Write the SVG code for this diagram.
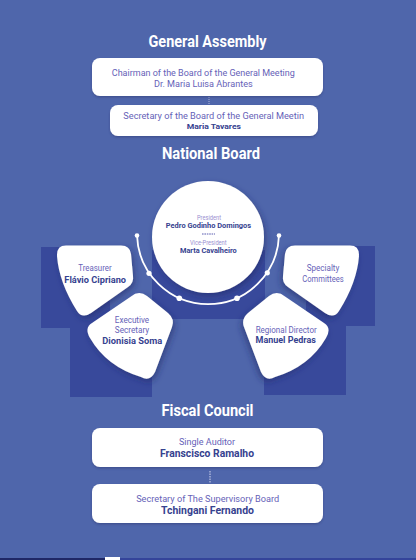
<svg xmlns="http://www.w3.org/2000/svg" width="416" height="560" viewBox="0 0 416 560">
<defs>
<style>
.t{font-family:Roboto,"Liberation Sans",sans-serif;text-anchor:middle}
.title{font-weight:700;font-size:17px;fill:#ffffff}
.lbl{fill:#6662b8}
.nm{font-weight:700;fill:#36428f}
.box{fill:#ffffff}
.petal{fill:#ffffff}
.dark{fill:#38499b}
.ctext{fill:#9a8fd0}
</style>
<filter id="sh" x="-30%" y="-30%" width="160%" height="160%">
<feDropShadow dx="2" dy="3" stdDeviation="3" flood-color="#1c2766" flood-opacity="0.55"/>
</filter>
<filter id="bsh" x="-10%" y="-20%" width="120%" height="150%">
<feDropShadow dx="0" dy="1.5" stdDeviation="1" flood-color="#2a356f" flood-opacity="0.45"/>
</filter>
<path id="petalA" d="M66,245.5 L121,245.5 Q130,245.5 131,254 L133,276 Q134,283 128,287 L91,313 Q82,319 77,311 Q59,282.5 57,256 Q56.5,245.5 66,245.5 Z"/>
<path id="petalB" d="M131,296.4 Q139,290 147,296 L168,313 Q175,319 172,327 L155,372 Q150,382 141,377 Q106.5,366.5 90,338 Q84,328 92,323 Z"/>
</defs>
<rect width="416" height="560" fill="#4f66ab"/>
<rect x="0" y="558" width="105" height="2" fill="#1f2766"/>
<rect x="105" y="557" width="15" height="3" fill="#ffffff"/>
<rect x="120" y="558" width="296" height="2" fill="#34449a"/>

<g id="backdrop">
<rect class="dark" x="41" y="247" width="69" height="81"/>
<rect class="dark" x="70" y="320" width="82" height="77"/>
<rect class="dark" x="152" y="250" width="113" height="69"/>
<rect class="dark" x="306" y="246" width="69" height="80"/>
<rect class="dark" x="264" y="320" width="82" height="75"/>
</g>

<text class="t title" x="207.5" y="46.5" textLength="118" lengthAdjust="spacingAndGlyphs">General Assembly</text>
<text class="t title" x="211" y="159.3" textLength="98" lengthAdjust="spacingAndGlyphs">National Board</text>
<text class="t title" x="207.5" y="415.7" textLength="92" lengthAdjust="spacingAndGlyphs">Fiscal Council</text>

<g id="connectors" fill="none">
<line x1="209" y1="97" x2="209" y2="104" stroke="#c9cde6" stroke-width="0.8" stroke-dasharray="1 1"/>
<line x1="210" y1="471" x2="210" y2="483" stroke="#d3d7ee" stroke-width="1" stroke-dasharray="1.5 1"/>
<path d="M137.04,235.48 A71,71 0 0 0 278.96,235.48" stroke="#ffffff" stroke-width="1.8"/>
<g fill="#ffffff">
<circle cx="137" cy="235.5" r="2.3"/>
<circle cx="149" cy="273.3" r="2.6"/>
<circle cx="179.3" cy="298.3" r="2.8"/>
<circle cx="237" cy="298.3" r="2.8"/>
<circle cx="267.3" cy="272.8" r="2.6"/>
<circle cx="279" cy="235.5" r="2.3"/>
</g>
</g>

<g id="chairman">
<rect class="box" x="92" y="58" width="231" height="38" rx="8" filter="url(#bsh)"/>
<text class="t lbl" x="203.3" y="76" font-size="9.3" textLength="183" lengthAdjust="spacingAndGlyphs">Chairman of the Board of the General Meeting</text>
<text class="t lbl" x="203.3" y="86.7" font-size="9.3" textLength="98.7" lengthAdjust="spacingAndGlyphs">Dr. Maria Luisa Abrantes</text>
</g>

<g id="secretary-gm">
<rect class="box" x="110" y="105" width="208" height="31" rx="8" filter="url(#bsh)"/>
<text class="t lbl" x="213.7" y="119" font-size="9.3" textLength="180.7" lengthAdjust="spacingAndGlyphs">Secretary of the Board of the General Meetin</text>
<text class="t nm" x="213.8" y="129" font-size="8" textLength="54.3" lengthAdjust="spacingAndGlyphs" fill="#2f3a7a">Maria Tavares</text>
</g>

<g id="president">
<circle cx="208" cy="237" r="56" fill="#ffffff" filter="url(#sh)"/>
<text class="t ctext" x="209" y="220" font-size="6.3" textLength="24" lengthAdjust="spacingAndGlyphs">President</text>
<text class="t nm" x="208.5" y="228.3" font-size="7.4" textLength="85.3" lengthAdjust="spacingAndGlyphs" fill="#514b9c">Pedro Godinho Domingos</text>
<line x1="202" y1="234" x2="215" y2="234" stroke="#5a5db0" stroke-width="1" stroke-dasharray="1.6 0.8"/>
<text class="t ctext" x="208.3" y="245" font-size="6.3" textLength="36.7" lengthAdjust="spacingAndGlyphs">Vice-President</text>
<text class="t nm" x="208.3" y="253.3" font-size="7.4" textLength="56.7" lengthAdjust="spacingAndGlyphs" fill="#514b9c">Marta Cavalheiro</text>
</g>

<g id="treasurer">
<use href="#petalA" class="petal" filter="url(#sh)"/>
<text class="t lbl" x="95" y="271.3" font-size="8.5" textLength="33.3" lengthAdjust="spacingAndGlyphs">Treasurer</text>
<text class="t nm" x="95.2" y="282.5" font-size="8.8" textLength="61.7" lengthAdjust="spacingAndGlyphs">Flávio Cipriano</text>
</g>

<g id="executive-secretary">
<use href="#petalB" class="petal" filter="url(#sh)"/>
<text class="t lbl" x="132" y="323.3" font-size="8.5" textLength="34.3" lengthAdjust="spacingAndGlyphs">Executive</text>
<text class="t lbl" x="132" y="333.3" font-size="8.5" textLength="34.3" lengthAdjust="spacingAndGlyphs">Secretary</text>
<text class="t nm" x="132.3" y="344.3" font-size="8.8" textLength="60" lengthAdjust="spacingAndGlyphs">Dionisia Soma</text>
</g>

<g id="specialty-committees">
<use href="#petalA" class="petal" transform="matrix(-1,0,0,1,416,0)" filter="url(#sh)"/>
<text class="t lbl" x="323" y="271.3" font-size="8.5" textLength="32.7" lengthAdjust="spacingAndGlyphs">Specialty</text>
<text class="t lbl" x="323" y="282.3" font-size="8.5" textLength="41.3" lengthAdjust="spacingAndGlyphs">Committees</text>
</g>

<g id="regional-director">
<use href="#petalB" class="petal" transform="matrix(-1,0,0,1,416,0)" filter="url(#sh)"/>
<text class="t lbl" x="286.2" y="332.5" font-size="8.5" textLength="61" lengthAdjust="spacingAndGlyphs">Regional Director</text>
<text class="t nm" x="285.7" y="342.8" font-size="8.8" textLength="60.3" lengthAdjust="spacingAndGlyphs">Manuel Pedras</text>
</g>

<g id="single-auditor">
<rect class="box" x="92" y="428" width="231" height="39" rx="8" filter="url(#bsh)"/>
<text class="t lbl" x="207" y="444.5" font-size="9.5" textLength="56" lengthAdjust="spacingAndGlyphs">Single Auditor</text>
<text class="t nm" x="207" y="457.3" font-size="10.8" textLength="94" lengthAdjust="spacingAndGlyphs">Franscisco Ramalho</text>
</g>

<g id="secretary-supervisory">
<rect class="box" x="92" y="484" width="231" height="39" rx="8" filter="url(#bsh)"/>
<text class="t lbl" x="207.7" y="501.7" font-size="9.5" textLength="143" lengthAdjust="spacingAndGlyphs">Secretary of The Supervisory Board</text>
<text class="t nm" x="207.5" y="514" font-size="10.8" textLength="93" lengthAdjust="spacingAndGlyphs">Tchingani Fernando</text>
</g>
</svg>
